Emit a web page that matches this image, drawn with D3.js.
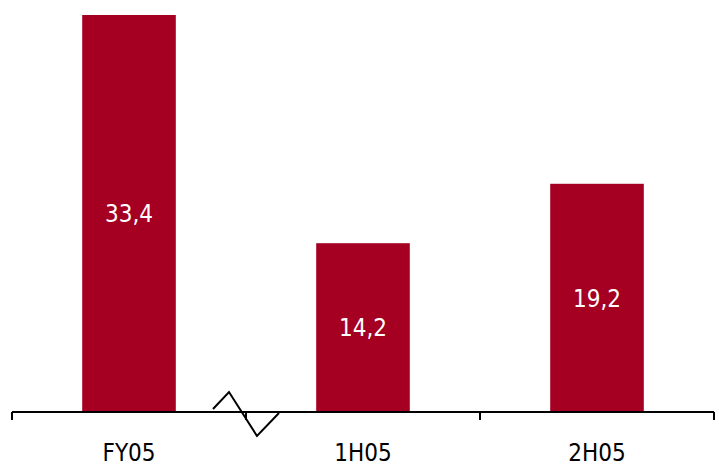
<!DOCTYPE html>
<html><head><meta charset="utf-8">
<script src="https://cdn.jsdelivr.net/npm/d3@7"></script>
<style>body{margin:0;background:#fff}svg{display:block}</style>
</head><body>
<svg id="c" width="719" height="469"></svg>
<script>
const categories = ["FY05", "1H05", "2H05"];
const values = [33.4, 14.2, 19.2];
const valueLabels = ["33,4", "14,2", "19,2"];

const svg = d3.select("#c");
const barColor = "#A50021";
const font = "'DejaVu Sans Condensed', 'DejaVu Sans', Verdana, sans-serif";

const x = d3.scaleBand().domain(categories).range([12, 714]).paddingInner(0.6).paddingOuter(0.3);
const y = d3.scaleLinear().domain([0, 33.4]).range([412, 15]);

svg.selectAll("rect.bar").data(values).enter().append("rect")
  .attr("class", "bar")
  .attr("x", (d, i) => x(categories[i]))
  .attr("width", x.bandwidth())
  .attr("y", d => y(d))
  .attr("height", d => y(0) - y(d))
  .attr("fill", barColor);

svg.selectAll("text.val").data(values).enter().append("text")
  .attr("class", "val")
  .attr("x", (d, i) => x(categories[i]) + x.bandwidth() / 2)
  .attr("y", d => (y(d) + y(0)) / 2)
  .attr("dy", "0.36em")
  .attr("text-anchor", "middle")
  .attr("fill", "#fff")
  .style("font-family", font)
  .style("font-stretch", "condensed")
  .style("font-size", "24px")
  .text((d, i) => valueLabels[i]);

// axis
const xAxis = d3.axisBottom(x).tickSize(0).tickFormat("");
const g = svg.append("g").attr("transform", `translate(0,${y(0)})`).call(xAxis);
g.select(".domain").remove();
g.append("line").attr("x1", 12).attr("x2", 714).attr("y1", 0).attr("y2", 0)
  .attr("stroke", "#000").attr("stroke-width", 2);
const step = x.step();
const bounds = [12, 12 + step, 12 + 2 * step, 12 + 3 * step].map(v => Math.min(v, 714));
g.selectAll("line.tk").data(bounds).enter().append("line")
  .attr("class", "tk")
  .attr("x1", d => d).attr("x2", d => d)
  .attr("y1", 0).attr("y2", 8)
  .attr("stroke", "#000").attr("stroke-width", 2);

g.selectAll("text.cat").data(categories).enter().append("text")
  .attr("class", "cat")
  .attr("x", d => x(d) + x.bandwidth() / 2)
  .attr("y", 40)
  .attr("dy", "0.36em")
  .attr("text-anchor", "middle")
  .attr("fill", "#000")
  .style("font-family", font)
  .style("font-stretch", "condensed")
  .style("font-size", "24px")
  .text(d => d);

// break symbol around first boundary
const bx = bounds[1];
svg.append("path")
  .attr("d", `M${bx - 33},${y(0) - 3} L${bx - 17},${y(0) - 20} L${bx + 11},${y(0) + 24} L${bx + 33},${y(0) + 1}`)
  .attr("fill", "none").attr("stroke", "#000").attr("stroke-width", 2);
</script>
</body></html>
